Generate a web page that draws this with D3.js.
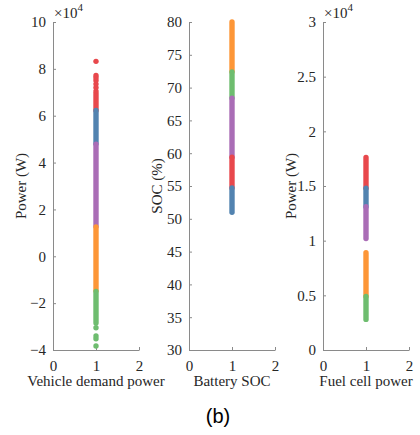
<!DOCTYPE html>
<html>
<head>
<meta charset="utf-8">
<script src="https://cdn.jsdelivr.net/npm/d3@7"></script>
<style>
  body { margin: 0; background: #fff; }
  svg { display: block; }
</style>
</head>
<body>
<div id="chart"></div>
<script>
// cluster ids shared by all three panels
var clusters = ['red', 'blue', 'purple', 'orange', 'green'];

// x axis is the same everywhere
var xTicks = [0, 1, 2];

// panel 1: vehicle demand power (x 10^4 W)
var demandTicks = [-4, -2, 0, 2, 4, 6, 8, 10];
var demandRanges = [
    { c: 'red', lo: 6.22, hi: 6.95 },
    { c: 'blue', lo: 4.8, hi: 6.22 },
    { c: 'purple', lo: 1.27, hi: 4.78 },
    { c: 'orange', lo: -1.47, hi: 1.25 },
    { c: 'green', lo: -2.85, hi: -1.5 }
];
var demandPoints = [
    { c: 'red', v: 7.05 }, { c: 'red', v: 7.2 }, { c: 'red', v: 7.35 },
    { c: 'red', v: 7.5 }, { c: 'red', v: 7.62 }, { c: 'red', v: 7.72 },
    { c: 'red', v: 8.32 },
    { c: 'green', v: -3.05 }, { c: 'green', v: -3.4 }, { c: 'green', v: -3.52 },
    { c: 'green', v: -3.83 }
];

// panel 2: battery SOC (%)
var socTicks = [30, 35, 40, 45, 50, 55, 60, 65, 70, 75, 80];
var socRanges = [
    { c: 'orange', lo: 72.4, hi: 80 },
    { c: 'green', lo: 68.4, hi: 72.4 },
    { c: 'purple', lo: 59.4, hi: 68.4 },
    { c: 'red', lo: 54.7, hi: 59.4 },
    { c: 'blue', lo: 51.0, hi: 54.7 }
];
var socPoints = [];

// panel 3: fuel cell power (x 10^4 W)
var fcTicks = [0, 0.5, 1, 1.5, 2, 2.5, 3];
var fcRanges = [
    { c: 'red', lo: 1.48, hi: 1.76 },
    { c: 'blue', lo: 1.31, hi: 1.48 },
    { c: 'purple', lo: 1.02, hi: 1.31 },
    { c: 'orange', lo: 0.49, hi: 0.89 },
    { c: 'green', lo: 0.28, hi: 0.49 }
];
var fcPoints = [];

var width = 420, height = 435;
var plotTop = 22, plotBottom = 350, plotWidth = 86;
var dotR = 2.7;

var color = d3.scaleOrdinal()
    .domain(clusters)
    .range(['#e8484c', '#5283b0', '#aa6db6', '#fd9637', '#6ebd6f']);

var panels = [
    { left: 53, ticks: demandTicks, ranges: demandRanges, points: demandPoints,
      ylabel: 'Power (W)', xlabel: 'Vehicle demand power', exp: true, tickFmt: d3.format('d') },
    { left: 189, ticks: socTicks, ranges: socRanges, points: socPoints,
      ylabel: 'SOC (%)', xlabel: 'Battery SOC', exp: false, tickFmt: d3.format('d') },
    { left: 323, ticks: fcTicks, ranges: fcRanges, points: fcPoints,
      ylabel: 'Power (W)', xlabel: 'Fuel cell power', exp: true, tickFmt: d => String(d) }
];

var svg = d3.select('#chart')
    .append('svg')
    .attr('width', width)
    .attr('height', height);

var serif = '"Liberation Serif", "Times New Roman", serif';

panels.forEach(function(p) {
    var x = d3.scaleLinear().domain([0, 2]).range([0, plotWidth]);
    var y = d3.scaleLinear()
        .domain([p.ticks[0], p.ticks[p.ticks.length - 1]])
        .range([plotBottom - plotTop, 0]);

    var g = svg.append('g')
        .attr('transform', `translate(${p.left}, ${plotTop})`);

    // axes, ticks point inward like matlab
    var yAxis = d3.axisLeft(y).tickValues(p.ticks).tickFormat(p.tickFmt)
        .tickSizeInner(-3).tickSizeOuter(0).tickPadding(7);
    var xAxis = d3.axisBottom(x).tickValues(xTicks).tickFormat(d3.format('d'))
        .tickSizeInner(-3).tickSizeOuter(0).tickPadding(7);

    var gy = g.append('g').call(yAxis);
    var gx = g.append('g')
        .attr('transform', `translate(0, ${plotBottom - plotTop})`)
        .call(xAxis);

    [gx, gy].forEach(function(a) {
        a.attr('font-family', serif).attr('font-size', 15);
        a.select('.domain').attr('stroke', '#8a8a8a').attr('stroke-width', 1);
        a.selectAll('.tick line').attr('stroke', '#8a8a8a');
        a.selectAll('.tick text')
            .attr('fill', '#262626')
            .style('font-family', serif)
            .style('font-size', '15px');
    });
    gx.selectAll('.tick text').attr('dy', '0.95em');

    // dense runs of the scatter
    g.selectAll('line.run')
        .data(p.ranges)
        .enter()
        .append('line')
        .attr('class', 'run')
        .attr('x1', x(1)).attr('x2', x(1))
        .attr('y1', d => y(d.lo))
        .attr('y2', d => y(d.hi))
        .attr('stroke', d => color(d.c))
        .attr('stroke-width', dotR * 2)
        .attr('stroke-linecap', 'round');

    // loose points
    g.selectAll('circle')
        .data(p.points)
        .enter()
        .append('circle')
        .attr('cx', x(1))
        .attr('cy', d => y(d.v))
        .attr('r', dotR)
        .attr('fill', d => color(d.c));

    // y label
    g.append('text')
        .attr('transform', `translate(-32, ${(plotBottom - plotTop) / 2}) rotate(-90)`)
        .attr('text-anchor', 'middle')
        .attr('dy', '0.35em')
        .attr('fill', '#262626')
        .style('font-family', serif)
        .style('font-size', '15px')
        .text(p.ylabel);

    // x label
    g.append('text')
        .attr('x', x(1))
        .attr('y', 386 - plotTop)
        .attr('text-anchor', 'middle')
        .attr('fill', '#262626')
        .style('font-family', serif)
        .style('font-size', '15px')
        .text(p.xlabel);

    // exponent marker
    if (p.exp) {
        var t = g.append('text')
            .attr('x', 1)
            .attr('y', -4)
            .attr('fill', '#262626')
            .style('font-family', serif)
            .style('font-size', '15px');
        t.append('tspan').text('\u00d710');
        t.append('tspan').attr('dy', -7).style('font-size', '11px').text('4');
    }
});

svg.append('text')
    .attr('x', 218)
    .attr('y', 423)
    .attr('text-anchor', 'middle')
    .attr('fill', '#000')
    .style('font-family', '"Liberation Sans", Arial, sans-serif')
    .style('font-size', '20px')
    .text('(b)');
</script>
</body>
</html>
